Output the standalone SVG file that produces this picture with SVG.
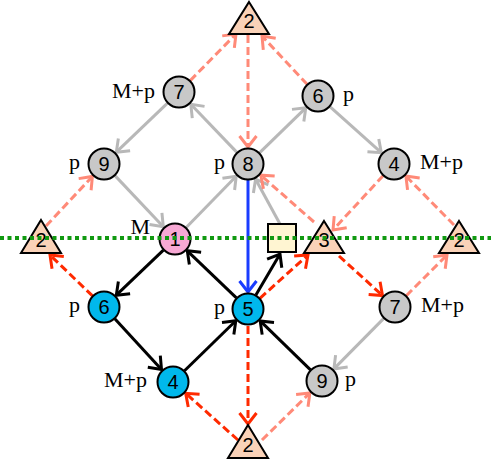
<svg xmlns="http://www.w3.org/2000/svg" width="491" height="464" viewBox="0 0 491 464">
<style>
.c{stroke:#000;stroke-width:2}
.g{fill:#c8c8c8}.b{fill:#00b8ec}.pk{fill:#f7a8d4}
.t{fill:#fad2b8;stroke:#000;stroke-width:2;stroke-linejoin:miter}
.n{font-family:"Liberation Sans",Arial,sans-serif;font-size:20px;text-anchor:middle}
.l{font-family:"Liberation Serif","Times New Roman",serif;font-size:22px}
.e{text-anchor:end}
.eg{stroke:#b8b8b8;stroke-width:3;fill:none;marker-end:url(#ag)}
.es{stroke:#ff8a78;stroke-width:3;fill:none;stroke-dasharray:8 4;marker-end:url(#as)}
.er{stroke:#ff2a00;stroke-width:3;fill:none;stroke-dasharray:8 4;marker-end:url(#ar)}
.ek{stroke:#000;stroke-width:3;fill:none;marker-end:url(#ak)}
.eb{stroke:#1a3cff;stroke-width:3;fill:none;marker-end:url(#ab)}
</style>
<defs>
<marker id="ag" markerUnits="userSpaceOnUse" orient="auto" markerWidth="30" markerHeight="30" refX="0" refY="0" viewBox="-15 -15 30 30" overflow="visible"><path d="M-11,-8.5 L0,0 L-11,8.5" fill="none" stroke="#b8b8b8" stroke-width="3"/></marker>
<marker id="as" markerUnits="userSpaceOnUse" orient="auto" markerWidth="30" markerHeight="30" refX="0" refY="0" viewBox="-15 -15 30 30" overflow="visible"><path d="M-11,-8.5 L0,0 L-11,8.5" fill="none" stroke="#ff8a78" stroke-width="3"/></marker>
<marker id="ar" markerUnits="userSpaceOnUse" orient="auto" markerWidth="30" markerHeight="30" refX="0" refY="0" viewBox="-15 -15 30 30" overflow="visible"><path d="M-11,-8.5 L0,0 L-11,8.5" fill="none" stroke="#ff2a00" stroke-width="3"/></marker>
<marker id="ak" markerUnits="userSpaceOnUse" orient="auto" markerWidth="30" markerHeight="30" refX="0" refY="0" viewBox="-15 -15 30 30" overflow="visible"><path d="M-11,-8.5 L0,0 L-11,8.5" fill="none" stroke="#000" stroke-width="3"/></marker>
<marker id="ab" markerUnits="userSpaceOnUse" orient="auto" markerWidth="30" markerHeight="30" refX="0" refY="0" viewBox="-15 -15 30 30" overflow="visible"><path d="M-11,-8.5 L0,0 L-11,8.5" fill="none" stroke="#1a3cff" stroke-width="3"/></marker>
</defs>
<rect width="491" height="464" fill="#fff"/>
<g id="connectors">
<line class="eg" x1="236.9" y1="152.4" x2="190.8" y2="104.3"/>
<line class="eg" x1="167.5" y1="103.1" x2="116.3" y2="152.2"/>
<line class="eg" x1="115" y1="175.6" x2="163.3" y2="226.7"/>
<line class="eg" x1="186.2" y1="227.5" x2="236.2" y2="176.2"/>
<line class="eg" x1="259.5" y1="152.8" x2="305.8" y2="107.8"/>
<line class="eg" x1="329.9" y1="106.7" x2="381.3" y2="152.7"/>
<line class="eg" x1="383.8" y1="318.4" x2="333.9" y2="368.9"/>
<line class="eg" x1="280" y1="224" x2="255.6" y2="179.2"/>
<line class="es" x1="190.2" y1="80.6" x2="236" y2="34"/>
<line class="es" x1="248" y1="35" x2="248" y2="147"/>
<line class="es" x1="307.1" y1="84.3" x2="262" y2="36"/>
<line class="es" x1="46" y1="226" x2="92.4" y2="176.4"/>
<line class="es" x1="383.1" y1="175.7" x2="333" y2="230"/>
<line class="es" x1="314" y1="222" x2="260.8" y2="175.2"/>
<line class="es" x1="454" y1="225" x2="405.9" y2="176.1"/>
<line class="es" x1="406.3" y1="295.7" x2="447" y2="255"/>
<line class="es" x1="262" y1="440" x2="309.9" y2="392.9"/>
<line class="er" x1="92.5" y1="295.9" x2="50" y2="255"/>
<line class="er" x1="259.9" y1="298.3" x2="308" y2="255"/>
<line class="er" x1="339" y1="256" x2="382.5" y2="295.5"/>
<line class="er" x1="248" y1="326" x2="248" y2="424"/>
<line class="er" x1="238" y1="440" x2="185.7" y2="393.3"/>
<line class="ek" x1="163.4" y1="250.1" x2="116.3" y2="295.2"/>
<line class="ek" x1="114.8" y1="318.8" x2="161.5" y2="369.5"/>
<line class="ek" x1="184.5" y1="370.8" x2="235.8" y2="320.8"/>
<line class="ek" x1="236.4" y1="297.9" x2="187.3" y2="250.8"/>
<line class="ek" x1="310.5" y1="369.8" x2="260.2" y2="320.9"/>
<line class="ek" x1="255.9" y1="295.1" x2="280" y2="254"/>
<line class="eb" x1="248" y1="180" x2="248" y2="292"/>
</g>
<g id="n7"><circle class="c g" cx="179" cy="92" r="15.5"/><text class="n" x="179" y="99">7</text><text class="l e" x="155" y="98">M+p</text></g>
<g id="n9"><circle class="c g" cx="104" cy="164" r="15.5"/><text class="n" x="104" y="171">9</text><text class="l e" x="80" y="169">p</text></g>
<g id="n8"><circle class="c g" cx="248" cy="164" r="15.5"/><text class="n" x="248" y="171">8</text><text class="l e" x="225" y="169">p</text></g>
<g id="n6"><circle class="c g" cx="318" cy="96" r="15.5"/><text class="n" x="318" y="103">6</text><text class="l" x="343" y="101">p</text></g>
<g id="n4"><circle class="c g" cx="394" cy="164" r="15.5"/><text class="n" x="394" y="171">4</text><text class="l" x="420" y="169">M+p</text></g>
<g id="n1"><circle class="c pk" cx="175" cy="239" r="15.5"/><text class="n" x="175" y="246">1</text><text class="l e" x="150" y="234">M</text></g>
<g id="b6"><circle class="c b" cx="104" cy="307" r="15.5"/><text class="n" x="104" y="314">6</text><text class="l e" x="80" y="312">p</text></g>
<g id="b4"><circle class="c b" cx="173" cy="382" r="15.5"/><text class="n" x="173" y="389">4</text><text class="l e" x="147" y="387">M+p</text></g>
<g id="b5"><circle class="c b" cx="248" cy="309" r="15.5"/><text class="n" x="248" y="316">5</text><text class="l e" x="225" y="314">p</text></g>
<g id="n7r"><circle class="c g" cx="395" cy="307" r="15.5"/><text class="n" x="395" y="314">7</text><text class="l" x="421" y="312">M+p</text></g>
<g id="n9r"><circle class="c g" cx="322" cy="381" r="15.5"/><text class="n" x="322" y="388">9</text><text class="l" x="345" y="386">p</text></g>
<g id="t2top"><polygon class="t" points="249,2 269,34 229,34"/><text class="n" x="249" y="28">2</text></g>
<g id="t2left"><polygon class="t" points="41,220 61,253 21,253"/><text class="n" x="41" y="247">2</text></g>
<g id="t3"><polygon class="t" points="324,221 344,253 304,253"/><text class="n" x="324" y="247">3</text></g>
<g id="t2right"><polygon class="t" points="459,221 479,253 439,253"/><text class="n" x="459" y="247">2</text></g>
<g id="t2bot"><polygon class="t" points="248,425 268,458 228,458"/><text class="n" x="248" y="452">2</text></g>
<g id="sq"><rect x="268" y="224" width="28" height="28" fill="#fff5d2" stroke="#000" stroke-width="2"/></g>
<line id="divider" x1="0" y1="238" x2="491" y2="238" stroke="#119911" stroke-width="4" stroke-dasharray="4 3.5"/>
</svg>
